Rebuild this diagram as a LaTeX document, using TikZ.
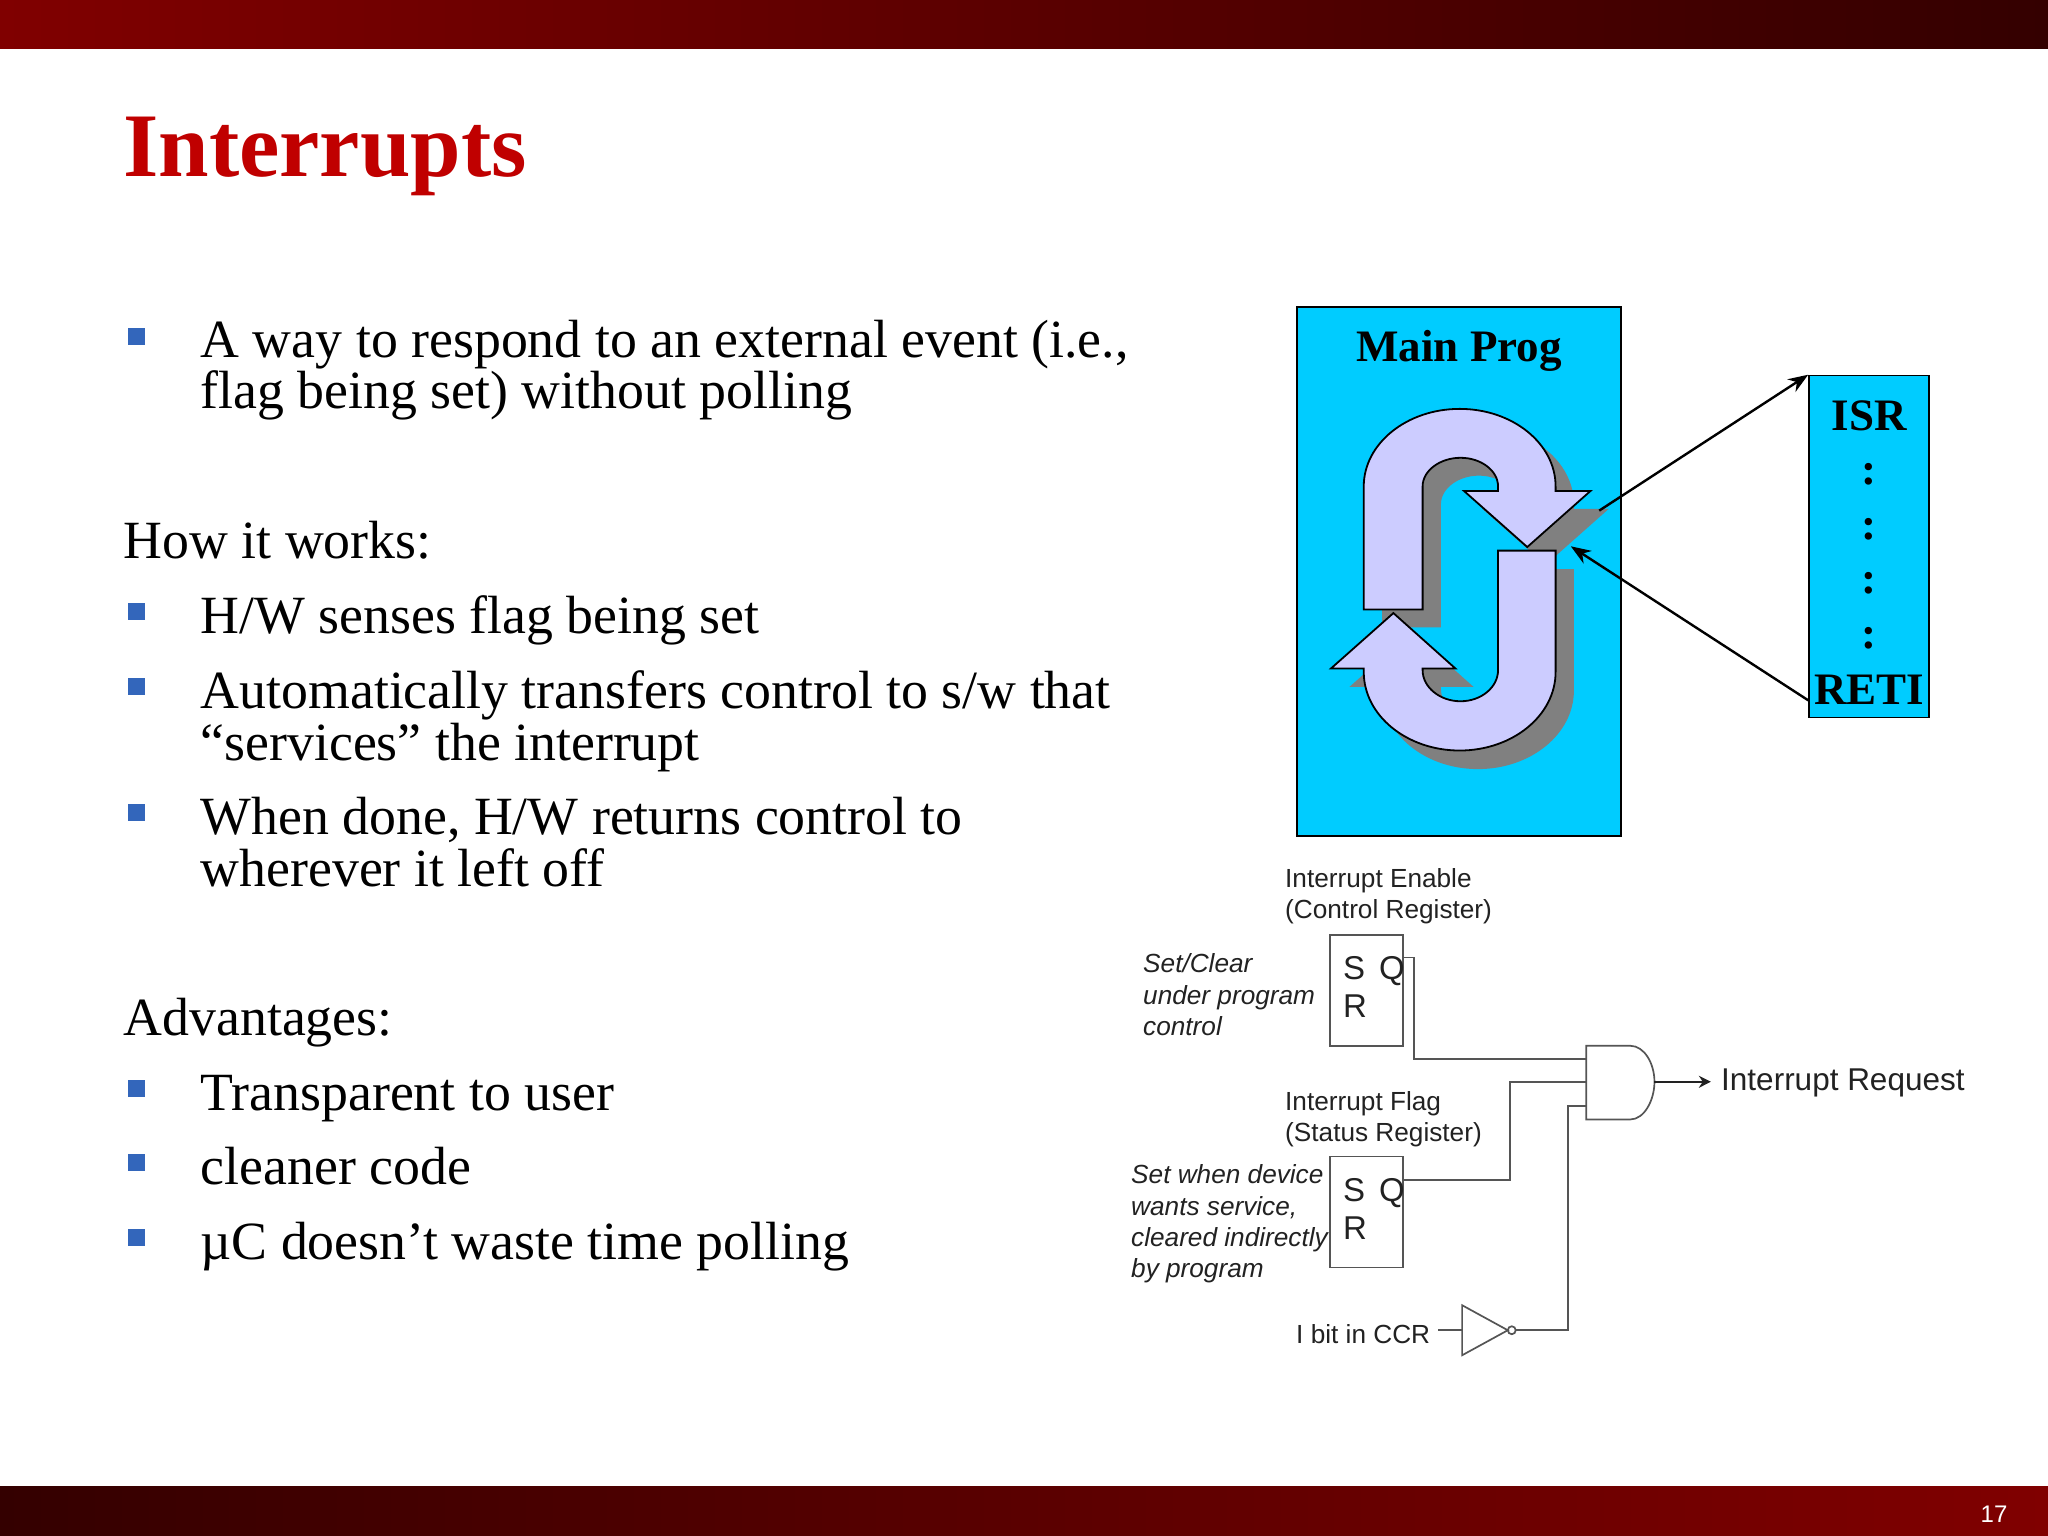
\documentclass[tikz,border=0pt]{standalone}
\usepackage{fontspec}
\setmainfont{Liberation Serif}
\newfontfamily\lsans{Liberation Sans}
\usetikzlibrary{arrows.meta}
\definecolor{cyanbox}{HTML}{00CCFF}
\definecolor{lav}{HTML}{CCCCFF}
\definecolor{titlered}{HTML}{C00000}
\definecolor{bulletblue}{HTML}{3366BB}
\definecolor{barred}{HTML}{800000}
\definecolor{bardark}{HTML}{340000}
\definecolor{wire}{HTML}{555555}
\definecolor{labelink}{HTML}{222222}
\newcommand{\fsz}[1]{\fontsize{#1}{#1}\selectfont}
\newcommand{\upperarrowpath}{(215,895) -- (215,550) .. controls (215,430) and (314,333) .. (435,333) .. controls (556,333) and (655,430) .. (655,550) -- (655,563) -- (735,563) -- (590,720) -- (445,563) -- (523,563) -- (523,550) .. controls (523,506) and (484,470) .. (437,470) .. controls (390,470) and (350,506) .. (350,550) -- (350,895) -- cycle}
\newcommand{\lowerarrowpath}{(655,730) -- (655,1070) .. controls (655,1192) and (556,1290) .. (435,1290) .. controls (314,1290) and (215,1192) .. (215,1070) -- (215,1060) -- (140,1060) -- (283,905) -- (425,1060) -- (350,1060) -- (350,1065) .. controls (350,1113) and (390,1152) .. (437,1152) .. controls (484,1152) and (523,1113) .. (523,1065) -- (523,730) -- cycle}
\tikzset{
  body/.style={anchor=base west,inner sep=0pt,font=\fsz{53.8},text=black},
  bulletsq/.style={fill=bulletblue,draw=none,minimum size=17pt,inner sep=0pt},
  cyanrect/.style={draw=black,line width=1.6pt,fill=cyanbox,inner sep=0pt},
  bold45/.style={anchor=base,inner sep=0pt,font=\bfseries\fsz{45},text=black},
  curvearrow/.style={draw=black,line width=1.8pt,fill=lav,line join=miter},
  shadowarrow/.style={fill=gray!100!black,draw=none},
  link/.style={draw=black,line width=2.4pt,-{Stealth[length=20pt,width=15pt]}},
  wireline/.style={draw=wire,line width=1.7pt},
  lab/.style={anchor=base west,inner sep=0pt,font=\lsans\fsz{26.2},text=labelink},
  labi/.style={anchor=base west,inner sep=0pt,font=\lsans\itshape\fsz{26.2},text=labelink},
  srbox/.style={draw=wire,line width=1.7pt,fill=white,minimum width=73pt,minimum height=111pt,inner sep=0pt},
  srlet/.style={anchor=base west,inner sep=0pt,font=\lsans\fsz{33},text=labelink}
}
\begin{document}
\begin{tikzpicture}[x=1pt,y=-1pt]
\useasboundingbox (0,0) rectangle (2048,1536);
\fill[white] (0,0) rectangle (2048,1536);
\fill[left color=barred,right color=bardark] (0,0) rectangle (2048,49);
\fill[left color=bardark,right color=barred] (0,1486) rectangle (2048,1536);
\node[anchor=base west,inner sep=0pt,font=\bfseries\fsz{90.8},text=titlered] (title) at (123,176) {Interrupts};
\node[anchor=base,inner sep=0pt,font=\lsans\fsz{24},text=white] (pagenum) at (1994,1522) {17};

\node[bulletsq] (b1) at (136.5,336) {};
\node[bulletsq] (b2) at (136.5,611) {};
\node[bulletsq] (b3) at (136.5,686) {};
\node[bulletsq] (b4) at (136.5,812) {};
\node[bulletsq] (b5) at (136.5,1088) {};
\node[bulletsq] (b6) at (136.5,1162) {};
\node[bulletsq] (b7) at (136.5,1237) {};

\node[body] (t1) at (200.5,357.5) {A way to respond to an external event (i.e.,};
\node[body] (t2) at (200.5,408.5) {flag being set) without polling};
\node[body] (t3) at (123.5,558) {How it works:};
\node[body] (t4) at (200.5,633) {H/W senses flag being set};
\node[body] (t5) at (200.5,708) {Automatically transfers control to s/w that};
\node[body] (t6) at (200.5,760) {“services” the interrupt};
\node[body] (t7) at (200.5,834) {When done, H/W returns control to};
\node[body] (t8) at (200.5,886) {wherever it left off};
\node[body] (t9) at (123.5,1035) {Advantages:};
\node[body] (t10) at (200.5,1110) {Transparent to user};
\node[body] (t11) at (200.5,1184) {cleaner code};
\node[body] (t12) at (200.5,1259) {µC doesn’t waste time polling};

% Main program block
\node[cyanrect,minimum width=324pt,minimum height=529pt] (main) at (1459,571.5) {};
\node[cyanrect,minimum width=120pt,minimum height=342pt] (isr) at (1869,546.5) {};
\node[bold45] (mp) at (1459,361) {Main Prog};
\node[bold45] (isrt) at (1869,430) {ISR};
\node[bold45] (c1) at (1869,484) {:};
\node[bold45] (c2) at (1869,539) {:};
\node[bold45] (c3) at (1869,593) {:};
\node[bold45] (c4) at (1869,648) {:};
\node[bold45] (reti) at (1869,704) {RETI};
\begin{scope}[shift={(1270,290)},x=.436pt,y=-.357pt]
  \fill[shadowarrow,shift={(42,50)}] \upperarrowpath;
  \fill[shadowarrow,shift={(42,52)}] \lowerarrowpath;
  \draw[curvearrow] \upperarrowpath;
  \draw[curvearrow] \lowerarrowpath;
  \coordinate (loopout) at (755,618);
  \coordinate (loopin) at (690,718);
\end{scope}
\coordinate (retiout) at ([yshift=18pt]isr.south west);
\draw[link] (loopout) -- (isr.north west);
\draw[link] (retiout) -- (loopin);

% Logic diagram
\begin{scope}[shift={(1108.5,850)},x=.564pt,y=-.3335pt]
  \node[srbox] (sr1) at (458,421) {};
  \node[srbox] (sr2) at (458,1085) {};
  \coordinate (q1) at (523,322);
  \coordinate (q2) at (523,990);
  \coordinate (in1) at (847,627);
  \coordinate (in2) at (847,695);
  \coordinate (in3) at (847,768);
  \coordinate (gateout) at (968,695);
  \coordinate (reqtip) at (1068,695);
  \coordinate (invin) at (627,1440);
  \coordinate (invtip) at (708,1440);
  \coordinate (invout) at (722,1440);
  \coordinate (ccr) at (585,1440);
  \draw[wireline] (q1) -- (542,322) |- (in1);
  \draw[wireline] (q2) -- (712,990) |- (in2);
  \draw[wireline] (invout) -- (815,1440) |- (in3);
  \draw[wireline] (847,587) -- (925,587) .. controls (950,587) and (968,640) .. (gateout) .. controls (968,750) and (950,808) .. (925,808) -- (847,808) -- cycle;
  \draw[wireline,-{Stealth[length=12pt,width=12pt]},draw=labelink] (gateout) -- (reqtip);
  \draw[wireline] (ccr) -- (invin);
  \draw[wireline] (627,1365) -- (invtip) -- (627,1515) -- cycle;
  \draw[wireline] (715,1440) ellipse [x radius=7,y radius=12];
\end{scope}
\node[lab] (l1) at (1285,887) {Interrupt Enable};
\node[lab] (l2) at (1285,918) {(Control Register)};
\node[lab] (l3) at (1285,1110) {Interrupt Flag};
\node[lab] (l4) at (1285,1141) {(Status Register)};
\node[labi] (l5) at (1143,972) {Set/Clear};
\node[labi] (l6) at (1143,1004) {under program};
\node[labi] (l7) at (1143,1035) {control};
\node[labi] (l8) at (1131,1183) {Set when device};
\node[labi] (l9) at (1131,1215) {wants service,};
\node[labi] (l10) at (1131,1246) {cleared indirectly};
\node[labi] (l11) at (1131,1277) {by program};
\node[lab] (l12) at (1296,1343) {I bit in CCR};
\node[lab,font=\lsans\fsz{31.5}] (l13) at (1721,1090) {Interrupt Request};
\node[srlet] (s1) at (1343,979) {S};
\node[srlet] (q1t) at (1379,979) {Q};
\node[srlet] (r1) at (1343,1017) {R};
\node[srlet] (s2) at (1343,1201) {S};
\node[srlet] (q2t) at (1379,1201) {Q};
\node[srlet] (r2) at (1343,1239) {R};
\end{tikzpicture}
\end{document}
